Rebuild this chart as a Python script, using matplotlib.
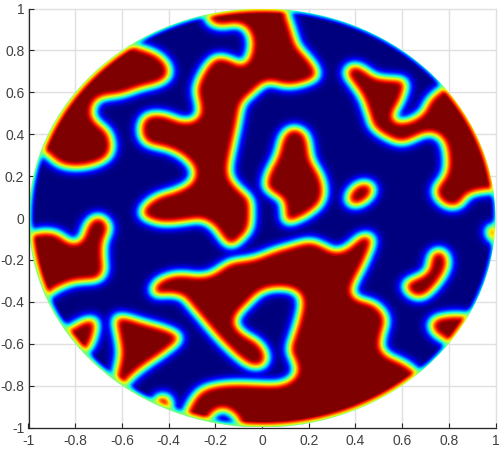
import numpy as np
import matplotlib
matplotlib.use("Agg")
import matplotlib.pyplot as plt
from matplotlib.path import Path
from matplotlib.patches import Circle

plt.rcParams['font.family'] = ['Liberation Sans', 'DejaVu Sans']

tick_values = [-1, -0.8, -0.6, -0.4, -0.2, 0, 0.2, 0.4, 0.6, 0.8, 1]
tick_labels = ['-1', '-0.8', '-0.6', '-0.4', '-0.2', '0', '0.2', '0.4', '0.6', '0.8', '1']

# Outlines of the high-phase regions (x, y in axis units)
region_top_left = [(-0.557,0.817),(-0.493,0.798),(-0.436,0.767),(-0.401,0.714),(-0.408,0.667),(-0.450,0.640),
    (-0.521,0.624),(-0.607,0.587),(-0.692,0.579),(-0.727,0.548),(-0.737,0.492),(-0.713,0.452),(-0.663,0.413),
    (-0.645,0.341),(-0.663,0.286),(-0.720,0.254),(-0.791,0.241),(-0.862,0.249),(-0.905,0.286),(-0.940,0.325),
    (-1.05,0.35),(-1.0,0.8),(-0.6,0.85)]
region_centre = [(-0.237,0.963),(-0.223,0.929),(-0.180,0.913),(-0.109,0.929),(-0.067,0.905),(-0.045,0.849),
    (-0.053,0.770),(-0.088,0.722),(-0.138,0.754),(-0.195,0.770),(-0.230,0.738),(-0.266,0.675),(-0.287,0.611),
    (-0.273,0.548),(-0.266,0.500),(-0.294,0.460),(-0.351,0.456),(-0.422,0.492),(-0.493,0.492),(-0.521,0.452),
    (-0.521,0.389),(-0.493,0.349),(-0.408,0.333),(-0.337,0.294),(-0.287,0.230),(-0.301,0.167),(-0.365,0.127),
    (-0.450,0.103),(-0.507,0.056),(-0.521,0.011),(-0.479,-0.013),(-0.422,-0.029),(-0.322,-0.016),(-0.266,-0.005),
    (-0.209,-0.037),(-0.173,-0.10),(-0.138,-0.14),(-0.102,-0.108),(-0.060,-0.06),(-0.053,0.003),(-0.053,0.087),
    (-0.095,0.127),(-0.138,0.175),(-0.152,0.230),(-0.131,0.341),(-0.109,0.452),(-0.095,0.548),(-0.048,0.595),
    (0.016,0.659),(0.108,0.624),(0.222,0.659),(0.233,0.698),(0.193,0.762),(0.143,0.817),(0.122,0.897),
    (0.094,0.984),(0.1,1.1),(-0.25,1.1)]
region_left = [(-1.0,-0.084),(-0.936,-0.068),(-0.879,-0.076),(-0.837,-0.116),(-0.794,-0.127),(-0.766,-0.092),
    (-0.751,-0.029),(-0.709,0.012),(-0.666,-0.021),(-0.659,-0.06),(-0.686,-0.116),(-0.686,-0.188),(-0.679,-0.26),
    (-0.707,-0.30),(-0.791,-0.30),(-0.848,-0.318),(-0.912,-0.355),(-1.0,-0.45),(-1.1,-0.1)]
region_bottom = [(-0.473,-0.347),(-0.452,-0.307),(-0.409,-0.283),(-0.352,-0.27),(-0.281,-0.283),(-0.224,-0.276),
    (-0.180,-0.244),(-0.138,-0.212),(-0.067,-0.204),(-0.01,-0.188),(0.037,-0.164),(0.136,-0.132),(0.2,-0.112),
    (0.25,-0.132),(0.307,-0.169),(0.364,-0.148),(0.406,-0.10),(0.442,-0.08),(0.47,-0.10),(0.456,-0.156),
    (0.42,-0.244),(0.385,-0.315),(0.375,-0.363),(0.406,-0.395),(0.47,-0.408),(0.513,-0.451),(0.527,-0.498),
    (0.506,-0.562),(0.499,-0.626),(0.534,-0.666),(0.591,-0.689),(0.648,-0.732),(0.75,-0.85),(0.3,-1.1),
    (-0.09,-1.05),(-0.095,-0.992),(-0.109,-0.952),(-0.152,-0.913),(-0.195,-0.913),(-0.23,-0.952),(-0.24,-0.976),
    (-0.25,-1.05),(-0.35,-1.0),(-0.322,-0.92),(-0.287,-0.849),(-0.237,-0.809),(-0.124,-0.793),(-0.01,-0.80),
    (0.094,-0.80),(0.151,-0.745),(0.136,-0.682),(0.111,-0.634),(0.136,-0.554),(0.158,-0.475),(0.172,-0.395),
    (0.143,-0.347),(0.08,-0.331),(-0.006,-0.344),(-0.067,-0.411),(-0.116,-0.467),(-0.124,-0.514),(-0.081,-0.562),
    (-0.02,-0.594),(0.016,-0.658),(0.001,-0.71),(-0.053,-0.713),(-0.124,-0.65),(-0.195,-0.57),(-0.266,-0.475),
    (-0.315,-0.411),(-0.344,-0.371),(-0.409,-0.363),(-0.459,-0.371)]
region_triangle = [(-0.635,-0.475),(-0.592,-0.475),(-0.507,-0.506),(-0.422,-0.53),(-0.344,-0.57),(-0.409,-0.634),
    (-0.494,-0.697),(-0.551,-0.745),(-0.586,-0.785),(-0.63,-0.85),(-0.628,-0.745),(-0.614,-0.697),(-0.607,-0.634),
    (-0.621,-0.554)]
region_wedge = [(-0.827,-0.538),(-0.777,-0.499),(-0.727,-0.483),(-0.713,-0.506),(-0.727,-0.578),(-0.751,-0.634),
    (-0.85,-0.7),(-0.9,-0.55)]
region_nub = [(-0.45,-0.865),(-0.426,-0.849),(-0.40,-0.873),(-0.40,-0.904),(-0.42,-0.96),(-0.47,-0.90)]
region_vine = [(0.364,0.714),(0.392,0.73),(0.435,0.706),(0.477,0.667),(0.548,0.659),(0.605,0.659),(0.608,0.619),
    (0.584,0.548),(0.548,0.484),(0.57,0.449),(0.634,0.46),(0.69,0.50),(0.712,0.563),(0.769,0.614),(0.82,0.65),
    (1.1,0.3),(1.05,0.13),(0.982,0.135),(0.875,0.119),(0.847,0.063),(0.804,0.048),(0.754,0.079),(0.733,0.135),
    (0.783,0.198),(0.793,0.262),(0.783,0.357),(0.74,0.405),(0.69,0.405),(0.634,0.373),(0.591,0.357),(0.534,0.381),
    (0.47,0.429),(0.456,0.484),(0.427,0.579),(0.378,0.651),(0.357,0.683)]
region_blob = [(0.136,0.429),(0.179,0.405),(0.193,0.357),(0.2,0.278),(0.243,0.206),(0.261,0.135),(0.25,0.071),
    (0.193,0.016),(0.122,-0.021),(0.094,-0.021),(0.094,0.04),(0.087,0.087),(0.051,0.111),(0.009,0.143),
    (0.023,0.214),(0.065,0.294),(0.08,0.373),(0.101,0.413)]
region_ellipse = [(0.364,0.087),(0.371,0.119),(0.406,0.159),(0.449,0.167),(0.474,0.135),(0.449,0.087),(0.406,0.06),
    (0.373,0.063)]
region_kidney = [(0.612,-0.307),(0.676,-0.283),(0.712,-0.252),(0.719,-0.18),(0.747,-0.153),(0.783,-0.172),
    (0.79,-0.236),(0.747,-0.315),(0.69,-0.379),(0.648,-0.379),(0.612,-0.347)]
region_edge = [(0.719,-0.506),(0.747,-0.475),(0.861,-0.467),(0.95,-0.5),(0.85,-0.65),(0.797,-0.594),(0.747,-0.562),
    (0.726,-0.538)]
region_spot = [(0.96,-0.06),(0.99,-0.04),(1.05,-0.08),(0.99,-0.12)]

regions = [region_top_left, region_centre, region_left, region_bottom, region_triangle, region_wedge, region_nub,
           region_vine, region_blob, region_ellipse, region_kidney, region_edge, region_spot]


def rounded(outline, passes=2):
    pts = np.asarray(outline, float)
    for _ in range(passes):
        nxt = np.roll(pts, -1, axis=0)
        pts = np.column_stack([0.75 * pts + 0.25 * nxt, 0.25 * pts + 0.75 * nxt]).reshape(-1, 2)
    return pts


n = 1024
lim = 1.15
axis = np.linspace(-lim, lim, n)
X, Y = np.meshgrid(axis, axis)
grid_pts = np.column_stack([X.ravel(), Y.ravel()])
mask = np.zeros(X.shape, bool)
for outline in regions:
    mask |= Path(rounded(outline)).contains_points(grid_pts).reshape(X.shape)

sigma = 0.018
freq = np.fft.fftfreq(n, d=axis[1] - axis[0])
KX, KY = np.meshgrid(freq, freq)
kernel = np.exp(-2 * (np.pi * sigma) ** 2 * (KX ** 2 + KY ** 2))
field = np.clip(np.fft.ifft2(np.fft.fft2(mask.astype(float)) * kernel).real, 0, 1)
# outlines were traced along the yellow band, so the mask edge maps to yellow
field = np.clip(field ** 0.55 * 1.03, 0, 1)

# Phase relaxes towards the middle value right at the disc's rim
R = np.hypot(X, Y)
rim = np.clip((1 - R) / 0.026, 0, 1)
field = 0.5 + (field - 0.5) * rim ** 0.75

fig = plt.figure(figsize=(5, 4.5), dpi=100, facecolor='white')
ax = fig.add_axes([28.5 / 500, (450 - 427.5) / 450, 467 / 500, 419 / 450])
im = ax.imshow(field, extent=[-lim, lim, -lim, lim], origin='lower', cmap='jet', vmin=0, vmax=1,
               interpolation='bilinear', aspect='auto', zorder=2)
im.set_clip_path(Circle((0, 0), 1, transform=ax.transData))

ax.set_xlim(-1, 1)
ax.set_ylim(-1, 1)
ax.set_xticks(tick_values, tick_labels)
ax.set_yticks(tick_values, tick_labels)
ax.grid(True, color='#e0e0e0', linewidth=1.0, zorder=0)
ax.set_axisbelow(True)
for side in ('top', 'right'):
    ax.spines[side].set_visible(False)
for side in ('left', 'bottom'):
    ax.spines[side].set_color('#262626')
    ax.spines[side].set_linewidth(0.9)
    ax.spines[side].set_zorder(3)
ax.tick_params(direction='in', length=3.5, width=0.8, color='#262626', labelcolor='#404040',
               labelsize=10, pad=3)
ax.tick_params(axis='x', pad=5)
for line in ax.get_xgridlines() + ax.get_ygridlines():
    line.set_clip_on(False)
fig.savefig('out.png', dpi=100)
